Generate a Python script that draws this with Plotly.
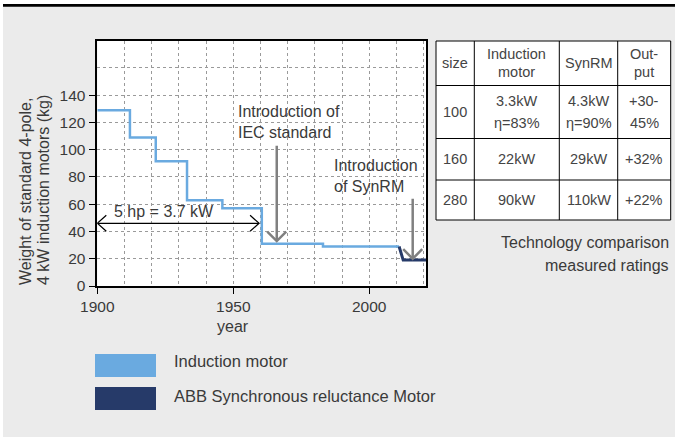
import plotly.graph_objects as go

W, H = 675, 437

# ---------------- data ----------------
IND_YEARS = [1900, 1912, 1921.5, 1933, 1946, 1960.5, 1983, 2011]
IND_KG = [129, 109, 91.5, 63, 57, 31, 29, 29]
SYN_YEARS = [2011, 2012.5, 2021]
SYN_KG = [29, 19, 19]

X_TICKS = [1900, 1950, 2000]
Y_TICKS = [0, 20, 40, 60, 80, 100, 120, 140]

SERIES_NAMES = ["Induction motor", "ABB Synchronous reluctance Motor"]
SERIES_COLORS = ["#6aaae0", "#263a69"]

Y_TITLE = ["Weight of standard 4-pole,", "4 kW induction motors (kg)"]
X_TITLE = "year"

HP_LABEL = "5 hp = 3.7 kW"
HP_SPAN = [1900, 1959.5]
HP_LEVEL = 46
IEC_LABEL = ["Introduction of", "IEC standard"]
IEC_YEAR = 1966
IEC_ARROW = [103, 33]
SYNRM_LABEL = ["Introduction", "of SynRM"]
SYNRM_YEAR = 2016
SYNRM_ARROW = [64, 20]

TABLE_HEADER = ["size", "Induction<br>motor", "SynRM", "Out-<br>put"]
TABLE_ROWS = [
    ["100", "3.3kW<br>η=83%", "4.3kW<br>η=90%", "+30-<br>45%"],
    ["160", "22kW", "29kW", "+32%"],
    ["280", "90kW", "110kW", "+22%"],
]
TABLE_CAPTION = ["Technology comparison", "measured ratings"]

# ---------------- layout helpers (pixel -> paper) ----------------
FONT = "Liberation Sans, Arial, sans-serif"
TXT = "#3a3a3a"


def PX(x):
    return x / W


def PY(y):
    return 1 - y / H


PLOT_L, PLOT_R, PLOT_T, PLOT_B = 97.3, 426.3, 40.7, 286.0

fig = go.Figure()

fig.add_trace(go.Scatter(
    x=IND_YEARS, y=IND_KG, mode="lines", line_shape="hv",
    line=dict(color=SERIES_COLORS[0], width=2.5), name=SERIES_NAMES[0],
    showlegend=False, hoverinfo="skip"))
fig.add_trace(go.Scatter(
    x=SYN_YEARS, y=SYN_KG, mode="lines",
    line=dict(color=SERIES_COLORS[1], width=3), name=SERIES_NAMES[1],
    showlegend=False, hoverinfo="skip"))

shapes = []
annotations = []

# background pieces
shapes.append(dict(type="rect", xref="paper", yref="paper", x0=0, x1=PX(3), y0=0, y1=1,
                   fillcolor="white", line=dict(width=0), layer="below"))
shapes.append(dict(type="rect", xref="paper", yref="paper", x0=0, x1=1, y0=PY(4), y1=1,
                   fillcolor="white", line=dict(width=0), layer="below"))
shapes.append(dict(type="rect", xref="paper", yref="paper", x0=PX(3), x1=1, y0=PY(6.7), y1=PY(4),
                   fillcolor="black", line=dict(width=0), layer="below"))

# gray arrows (shaft + open chevron head)
for yr, (ytop, ytip) in [(IEC_YEAR, IEC_ARROW), (SYNRM_YEAR, SYNRM_ARROW)]:
    shapes.append(dict(type="line", xref="x", yref="y", x0=yr, x1=yr, y0=ytop, y1=ytip,
                       line=dict(color="#808080", width=2.5)))
    shapes.append(dict(type="path", xref="x", yref="y", xsizemode="pixel", ysizemode="pixel",
                       xanchor=yr, yanchor=ytip, path="M -9.5,9.5 L 0,0 L 9.5,9.5",
                       line=dict(color="#808080", width=2.5)))

# double-headed arrow for 5 hp
shapes.append(dict(type="line", xref="x", yref="y", x0=HP_SPAN[0], x1=HP_SPAN[1], y0=HP_LEVEL, y1=HP_LEVEL,
                   line=dict(color="black", width=1.2)))
shapes.append(dict(type="path", xref="x", yref="y", xsizemode="pixel", ysizemode="pixel",
                   xanchor=HP_SPAN[0], yanchor=HP_LEVEL, path="M 9,8 L 0,0 L 9,-8",
                   line=dict(color="black", width=1.2)))
shapes.append(dict(type="path", xref="x", yref="y", xsizemode="pixel", ysizemode="pixel",
                   xanchor=HP_SPAN[1], yanchor=HP_LEVEL, path="M -9,8 L 0,0 L -9,-8",
                   line=dict(color="black", width=1.2)))

annotations.append(dict(x=1924.5, y=54.6, xref="x", yref="y", text=HP_LABEL, showarrow=False,
                        font=dict(size=16, color=TXT, family=FONT), xanchor="center", yanchor="middle"))
for i, line in enumerate(IEC_LABEL):
    annotations.append(dict(x=1950.9, y=[128, 112.5][i], xref="x", yref="y", text=line, showarrow=False,
                            font=dict(size=16, color=TXT, family=FONT), xanchor="left", yanchor="middle"))
for i, line in enumerate(SYNRM_LABEL):
    annotations.append(dict(x=1986.5, y=[88.2, 73.3][i], xref="x", yref="y", text=line, showarrow=False,
                            font=dict(size=16, color=TXT, family=FONT), xanchor="left", yanchor="middle"))

# axis titles
for i, line in enumerate(Y_TITLE):
    annotations.append(dict(x=PX([25.5, 43][i]), y=PY(287), xref="paper", yref="paper", text=line,
                            showarrow=False, textangle=-90,
                            font=dict(size=16, color=TXT, family=FONT), xanchor="center", yanchor="bottom"))
annotations.append(dict(x=1950, y=PY(326.5), xref="x", yref="paper", text=X_TITLE, showarrow=False,
                        font=dict(size=16, color=TXT, family=FONT), xanchor="center", yanchor="middle"))

# legend (custom swatches)
for i, (name, col) in enumerate(zip(SERIES_NAMES, SERIES_COLORS)):
    y0 = [354, 387][i]
    shapes.append(dict(type="rect", xref="paper", yref="paper", x0=PX(95), x1=PX(156),
                       y0=PY(y0 + 23), y1=PY(y0), fillcolor=col, line=dict(width=0)))
    annotations.append(dict(x=PX(172), y=PY([361, 396][i]), xref="paper", yref="paper", text=name,
                            showarrow=False, font=dict(size=16.5, color=TXT, family=FONT),
                            xanchor="left", yanchor="middle"))

# table
COLS = [436, 474.3, 559.3, 617.7, 670.7]
ROWS = [41, 85.5, 138.5, 180, 220]
LINE_GAP = [17.5, 22.3, 18, 18]
shapes.append(dict(type="rect", xref="paper", yref="paper", x0=PX(COLS[0]), x1=PX(COLS[-1]),
                   y0=PY(ROWS[-1]), y1=PY(ROWS[0]), fillcolor="white", line=dict(color="black", width=1)))
for c in COLS[1:-1]:
    shapes.append(dict(type="line", xref="paper", yref="paper", x0=PX(c), x1=PX(c),
                       y0=PY(ROWS[-1]), y1=PY(ROWS[0]), line=dict(color="black", width=1)))
for r in ROWS[1:-1]:
    shapes.append(dict(type="line", xref="paper", yref="paper", x0=PX(COLS[0]), x1=PX(COLS[-1]),
                       y0=PY(r), y1=PY(r), line=dict(color="black", width=1)))

for ri, row in enumerate([TABLE_HEADER] + TABLE_ROWS):
    cy = (ROWS[ri] + ROWS[ri + 1]) / 2
    for ci, cell in enumerate(row):
        cx = (COLS[ci] + COLS[ci + 1]) / 2
        lines = cell.split("<br>")
        n = len(lines)
        for li, t in enumerate(lines):
            yy = cy + (li - (n - 1) / 2) * LINE_GAP[ri]
            annotations.append(dict(x=PX(cx), y=PY(yy), xref="paper", yref="paper", text=t,
                                    showarrow=False, font=dict(size=14.5, color="#444444", family=FONT),
                                    xanchor="center", yanchor="middle"))

for i, t in enumerate(TABLE_CAPTION):
    annotations.append(dict(x=PX(671), y=PY([242, 265][i]), xref="paper", yref="paper", text=t,
                            showarrow=False, font=dict(size=16, color=TXT, family=FONT),
                            xanchor="right", yanchor="middle"))

fig.update_layout(
    width=W, height=H, autosize=False,
    margin=dict(l=0, r=0, t=0, b=0, pad=0),
    paper_bgcolor="#ebebeb", plot_bgcolor="white",
    showlegend=False,
    font=dict(family=FONT, color=TXT),
    xaxis=dict(domain=[PX(PLOT_L), PX(PLOT_R)], range=[1900, 2021], tickvals=X_TICKS,
               showgrid=True, gridcolor="#9a9a9a", griddash="dot", gridwidth=1,
               minor=dict(dtick=10, tick0=1900, showgrid=True, gridcolor="#9a9a9a", griddash="dot",
                          gridwidth=1, ticks=""),
               showline=True, mirror=True, linecolor="black", linewidth=1.5,
               ticks="outside", ticklen=6, tickcolor="black", tickwidth=1,
               tickfont=dict(size=15.5, color=TXT, family=FONT), zeroline=False, automargin=False,
               fixedrange=True),
    yaxis=dict(domain=[PY(PLOT_B), PY(PLOT_T)], range=[0, 180], tickvals=Y_TICKS,
               showgrid=True, gridcolor="#9a9a9a", griddash="dot", gridwidth=1,
               minor=dict(dtick=20, tick0=0, showgrid=True, gridcolor="#9a9a9a", griddash="dot",
                          gridwidth=1, ticks=""),
               showline=True, mirror=True, linecolor="black", linewidth=1.5,
               ticks="outside", ticklen=7, tickcolor="black", tickwidth=1,
               tickfont=dict(size=15.5, color=TXT, family=FONT), zeroline=False, automargin=False,
               fixedrange=True),
    shapes=shapes,
    annotations=annotations,
)

fig.write_html(
    "out.html",
    config={"displayModeBar": False},
    post_script="document.body.style.margin='0px';document.body.style.overflow='hidden';",
)
